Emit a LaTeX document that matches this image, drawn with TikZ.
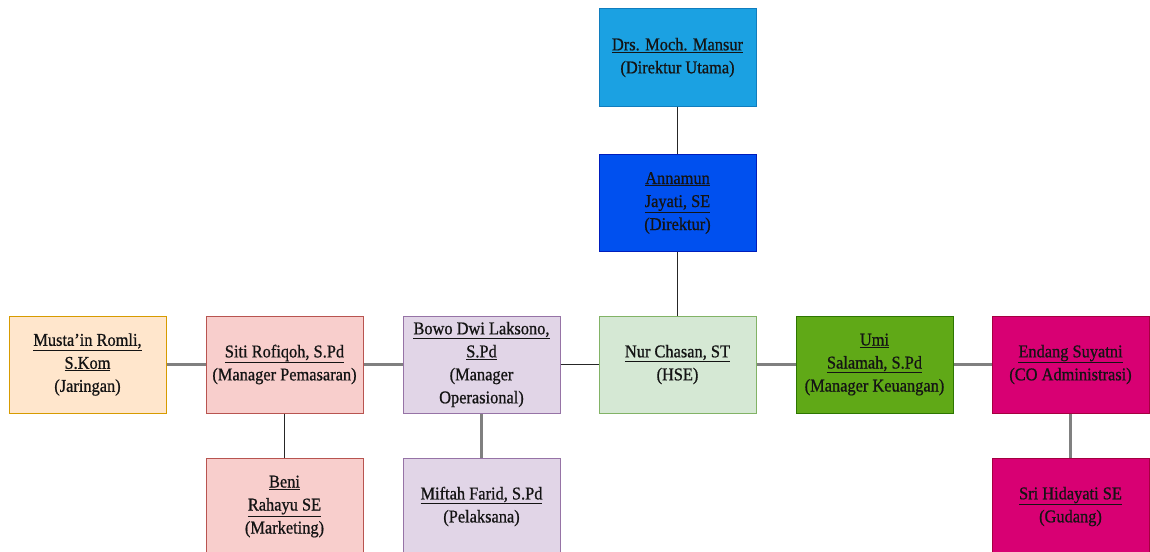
\documentclass[tikz,border=0pt]{standalone}
\usepackage{fontspec}
\setmainfont{Liberation Serif}
\newfontfamily\chartfont[RawFeature={extend=0.91;embolden=0.8}]{Liberation Serif}

\definecolor{utamaFill}{RGB}{27,161,226}
\definecolor{utamaLine}{RGB}{16,125,190}
\definecolor{direkFill}{RGB}{0,80,239}
\definecolor{direkLine}{RGB}{0,29,188}
\definecolor{orgFill}{RGB}{255,230,204}
\definecolor{orgLine}{RGB}{215,155,0}
\definecolor{redFill}{RGB}{248,206,204}
\definecolor{redLine}{RGB}{184,84,80}
\definecolor{purFill}{RGB}{225,213,231}
\definecolor{purLine}{RGB}{150,115,166}
\definecolor{grnFill}{RGB}{213,232,212}
\definecolor{grnLine}{RGB}{130,179,102}
\definecolor{limeFill}{RGB}{96,169,23}
\definecolor{limeLine}{RGB}{45,118,0}
\definecolor{magFill}{RGB}{216,0,115}
\definecolor{magLine}{RGB}{165,0,64}
\definecolor{linkGray}{RGB}{128,128,128}

\newcommand{\nm}[1]{\underline{#1}}

\begin{document}
\begin{tikzpicture}[x=1pt,y=1pt,yscale=-1,xscale=1,
  box/.style={draw, line width=1pt, minimum width=157pt, minimum height=97pt,
    inner sep=0pt, align=center, text=black!92,
    font=\chartfont\fontsize{18}{23}\selectfont},
  graylink/.style={draw=linkGray, line width=2.6pt},
  blacklink/.style={draw=black!85, line width=1.5pt}]
\path[use as bounding box, clip] (0,0) rectangle (1150,551);

% top of the chart
\node [box, fill=utamaFill, draw=utamaLine] (utama) at (677.5,57.5) {\nm{Drs. Moch. Mansur}\\(Direktur Utama)};
\node [box, fill=direkFill, draw=direkLine] (direktur) at (677.5,203) {\nm{Annamun}\\\nm{Jayati, SE}\\(Direktur)};

% middle row
\node [box, fill=orgFill, draw=orgLine] (jaringan) at (87.5,364.5) {\nm{Musta’in Romli,}\\\nm{S.Kom}\\(Jaringan)};
\node [box, fill=redFill, draw=redLine] (pemasaran) at (284.5,364.5) {\nm{Siti Rofiqoh, S.Pd}\\(Manager Pemasaran)};
\node [box, fill=purFill, draw=purLine] (operasional) at (481.5,364.5) {\nm{Bowo Dwi Laksono,}\\\nm{S.Pd}\\(Manager\\Operasional)};
\node [box, fill=grnFill, draw=grnLine] (hse) at (677.5,364.5) {\nm{Nur Chasan, ST}\\(HSE)};
\node [box, fill=limeFill, draw=limeLine] (keuangan) at (874.5,364.5) {\nm{Umi}\\\nm{Salamah, S.Pd}\\(Manager Keuangan)};
\node [box, fill=magFill, draw=magLine] (admin) at (1070.5,364.5) {\nm{Endang Suyatni}\\(CO Administrasi)};

% bottom row
\node [box, fill=redFill, draw=redLine] (marketing) at (284.5,506.5) {\nm{Beni}\\\nm{Rahayu SE}\\(Marketing)};
\node [box, fill=purFill, draw=purLine] (pelaksana) at (481.5,506.5) {\nm{Miftah Farid, S.Pd}\\(Pelaksana)};
\node [box, fill=magFill, draw=magLine] (gudang) at (1070.5,506.5) {\nm{Sri Hidayati SE}\\(Gudang)};

% links
\draw [blacklink] (utama) -- (direktur);
\draw [blacklink] (direktur) -- (hse);
\draw [graylink] (jaringan) -- (pemasaran);
\draw [graylink] (pemasaran) -- (operasional);
\draw [blacklink] (operasional) -- (hse);
\draw [graylink] (hse) -- (keuangan);
\draw [graylink] (keuangan) -- (admin);
\draw [blacklink] (pemasaran) -- (marketing);
\draw [graylink] (operasional) -- (pelaksana);
\draw [graylink] (admin) -- (gudang);
\end{tikzpicture}
\end{document}
